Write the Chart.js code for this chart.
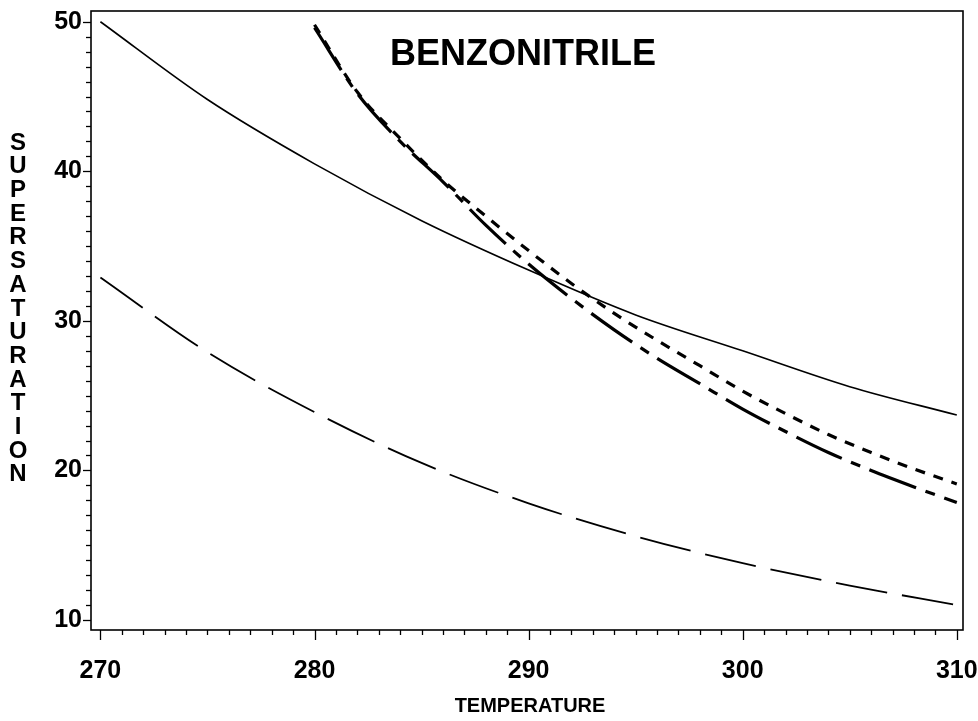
<!DOCTYPE html>
<html>
<head>
<meta charset="utf-8">
<script src="https://cdn.jsdelivr.net/npm/chart.js@4/dist/chart.umd.min.js"></script>
<style>
html,body{margin:0;padding:0;background:#fff;}
#wrap{width:978px;height:721px;position:relative;}
canvas{display:block;}
</style>
</head>
<body>
<div id="wrap"><canvas id="c" width="978" height="721"></canvas></div>
<script>
// ---- data ----
const chartTitle = "BENZONITRILE";
const xAxisTitle = "TEMPERATURE";
const yAxisTitle = "SUPERSATURATION";
const xTickLabels = [270, 280, 290, 300, 310];
const yTickLabels = [10, 20, 30, 40, 50];

const tempCoarse = [270, 275, 280, 285, 290, 295, 300, 305, 310];
const solidSeries = [50.0, 44.8, 40.5, 36.7, 33.4, 30.4, 28.0, 25.6, 23.7];
const longDashSeries = [32.9, 27.9, 23.9, 20.5, 17.8, 15.6, 13.8, 12.3, 11.0];

const tempFine = [280, 282, 284, 286, 288, 290, 292, 294, 296, 298, 300, 302, 304, 306, 308, 310];
const shortDashSeries = [49.8, 45.3, 42.2, 39.4, 37.0, 34.7, 32.5, 30.5, 28.7, 27.0, 25.3, 23.8, 22.4, 21.2, 20.1, 19.1];
const dashDotSeries = [49.6, 45.2, 42.0, 39.3, 36.4, 33.8, 31.5, 29.4, 27.5, 25.8, 24.1, 22.6, 21.2, 20.0, 18.9, 17.85];

const toPts = (xs, ys) => xs.map((x, i) => ({x: x, y: ys[i]}));

const decor = {
  id: 'decor',
  afterDraw(chart) {
    const ctx = chart.ctx, a = chart.chartArea;
    const xs = chart.scales.x, ys = chart.scales.y;
    ctx.save();
    ctx.strokeStyle = '#000';
    ctx.lineWidth = 1.6;
    ctx.strokeRect(a.left, a.top, a.right - a.left, a.bottom - a.top);
    ctx.lineWidth = 1.3;
    for (let v = xTickLabels[0]; v <= xTickLabels[xTickLabels.length - 1]; v++) {
      const px = Math.round(xs.getPixelForValue(v)) + 0.5;
      const len = (v % 10 === 0) ? 10 : 5;
      ctx.beginPath(); ctx.moveTo(px, a.bottom); ctx.lineTo(px, a.bottom + len); ctx.stroke();
    }
    for (let v = yTickLabels[0]; v <= yTickLabels[yTickLabels.length - 1]; v++) {
      const py = Math.round(ys.getPixelForValue(v)) + 0.5;
      const len = (v % 10 === 0) ? 8 : 5;
      ctx.beginPath(); ctx.moveTo(a.left, py); ctx.lineTo(a.left - len, py); ctx.stroke();
    }
    ctx.fillStyle = '#000';
    ctx.textAlign = 'center';
    ctx.textBaseline = 'middle';
    ctx.font = 'bold 36px "Liberation Sans", Arial, sans-serif';
    ctx.fillText(chartTitle, 523, 55);
    ctx.font = 'bold 20px "Liberation Sans", Arial, sans-serif';
    ctx.fillText(xAxisTitle, 530, 706);
    ctx.font = 'bold 24px "Liberation Sans", Arial, sans-serif';
    const letters = yAxisTitle.split('');
    letters.forEach((ch, i) => ctx.fillText(ch, 18, 143 + i * 23.7));
    ctx.restore();
  }
};

const tickFont = {family: '"Liberation Sans", Arial, sans-serif', size: 25, weight: 'bold'};

new Chart(document.getElementById('c'), {
  type: 'line',
  data: {
    datasets: [
      {data: toPts(tempCoarse, solidSeries), borderColor: '#000', borderWidth: 1.6, pointRadius: 0, cubicInterpolationMode: 'monotone', fill: false},
      {data: toPts(tempCoarse, longDashSeries), borderColor: '#000', borderWidth: 1.8, borderDash: [52, 15], pointRadius: 0, cubicInterpolationMode: 'monotone', fill: false},
      {data: toPts(tempFine, shortDashSeries), borderColor: '#000', borderWidth: 3.2, borderDash: [10, 9], pointRadius: 0, cubicInterpolationMode: 'monotone', fill: false},
      {data: toPts(tempFine, dashDotSeries), borderColor: '#000', borderWidth: 3.2, borderDash: [50, 10, 10, 10], pointRadius: 0, cubicInterpolationMode: 'monotone', fill: false}
    ]
  },
  options: {
    responsive: false,
    animation: false,
    devicePixelRatio: 1,
    layout: {padding: {left: 0, top: 11, right: 15, bottom: 0}},
    plugins: {legend: {display: false}, tooltip: {enabled: false}, title: {display: false}},
    scales: {
      x: {
        type: 'linear', min: 269.56, max: 310.29,
        afterBuildTicks: s => { s.ticks = xTickLabels.map(v => ({value: v})); },
        afterFit: s => { s.height = 91; s.paddingLeft = 0; s.paddingRight = 0; s.paddingTop = 0; s.paddingBottom = 0; },
        grid: {display: false, drawTicks: false},
        border: {display: false},
        ticks: {color: '#000', font: tickFont, padding: 26, maxRotation: 0, autoSkip: false}
      },
      y: {
        type: 'linear', min: 9.33, max: 50.72,
        afterBuildTicks: s => { s.ticks = yTickLabels.map(v => ({value: v})); },
        afterFit: s => { s.width = 91; s.paddingLeft = 0; s.paddingRight = 0; s.paddingTop = 0; s.paddingBottom = 0; },
        grid: {display: false, drawTicks: false},
        border: {display: false},
        ticks: {color: '#000', font: tickFont, padding: 9, autoSkip: false}
      }
    }
  },
  plugins: [decor]
});
</script>
</body>
</html>
